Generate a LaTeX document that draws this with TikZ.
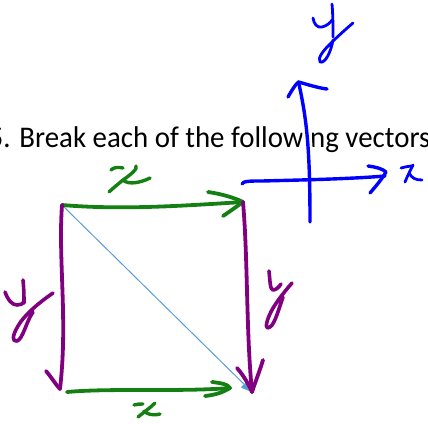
\documentclass[tikz,border=0pt]{standalone}
\usepackage{fontspec}
\setmainfont{Carlito}[FakeStretch=0.963]
\usetikzlibrary{arrows.meta}
\definecolor{pgreen}{RGB}{20,128,20}
\definecolor{ppurple}{RGB}{128,0,128}
\definecolor{pblue}{RGB}{0,0,255}
\definecolor{dblue}{RGB}{91,155,213}
\tikzset{
  pen/.style={line width=3.8, line cap=round, line join=round},
  gpen/.style={pen, draw=pgreen},
  ppen/.style={pen, draw=ppurple},
  bpen/.style={pen, line width=3.4, draw=pblue},
  titletext/.style={anchor=base west, inner sep=0, font=\fontsize{30}{36}\selectfont, text=black}
}
\begin{document}
\begin{tikzpicture}[x=1pt,y=-1pt]
\useasboundingbox (0,0) rectangle (428,423);
\clip (0,0) rectangle (428,423);
% title text
\node[titletext] (title) at (-11.5,147.7) {5. Break each of the following vectors};
% corners
\coordinate (A) at (62,205);
\coordinate (B) at (243,202);
\coordinate (C) at (60,389);
\coordinate (D) at (252,392);
\coordinate (E) at (67,392);
\coordinate (F) at (230,388);
% blue axes
\coordinate (ytop) at (298.5,82);
\coordinate (ybot) at (310,222);
\coordinate (xleft) at (242,184);
\coordinate (xright) at (385,176);
\begin{scope}
  \clip (285,114) rectangle (335,162);
  \draw[white, line width=9] (ytop) .. controls (307,120) and (310,150) .. (ybot);
\end{scope}
\draw[bpen] (ytop) .. controls (307,120) and (310,150) .. (ybot);
\draw[bpen] (288,97) .. controls (292,90) and (295,85) .. (ytop) .. controls (306,84) and (318,88) .. (327,89);
\draw[bpen] (xleft) .. controls (243,181) and (250,181) .. (262,181) .. controls (300,180) and (350,179) .. (xright);
\draw[bpen] (368,166) .. controls (376,167) and (383,169) .. (386,172) .. controls (382,179) and (376,186) .. (370,193);
% blue labels
\draw[bpen, line width=2.8] (313,18) .. controls (314,24) and (317,28) .. (322,27) .. controls (327,26) and (331,22) .. (332,20);
\draw[bpen, line width=2.8] (332,4) .. controls (333,15) and (333,28) .. (333,37);
\draw[bpen, line width=2.8] (353,23) .. controls (347,28) and (336,38) .. (330,44) .. controls (324,50) and (317,58) .. (320,62) .. controls (325,64) and (331,52) .. (333,40);
\draw[bpen, line width=2.8] (401,168) .. controls (405,167) and (409,166) .. (413,166);
\draw[bpen, line width=2.8] (413,165) .. controls (410,171) and (407,177) .. (405,182);
\draw[bpen, line width=2.8] (409,173) .. controls (412,178) and (415,180) .. (422,180);
% diagonal
\draw[dblue, line width=1, -{Triangle[length=11,width=9]}] (A) -- (D);
% green top vector
\draw[gpen] (A) .. controls (120,210) and (180,206) .. (B);
\draw[gpen] (208,192) .. controls (222,194) and (235,198) .. (B) .. controls (236,207) and (229,212) .. (223,216);
% purple left vector
\draw[ppen] (A) .. controls (58,260) and (68,320) .. (C);
\draw[ppen] (46,371) .. controls (52,378) and (56,385) .. (C);
% green bottom vector
\draw[gpen] (E) .. controls (110,388) and (180,392) .. (F);
\draw[gpen] (212,382) .. controls (220,383) and (228,384) .. (F) .. controls (222,393) and (214,395) .. (205,396);
% purple right vector
\draw[ppen] (B) .. controls (248,260) and (246,330) .. (D);
\draw[ppen] (237,368) .. controls (244,376) and (249,385) .. (D) .. controls (256,380) and (260,370) .. (263,360);
% green labels
\draw[gpen, line width=3.4] (111,170) .. controls (114,167) and (118,167) .. (123,168);
\draw[gpen, line width=3.4] (136,166) .. controls (138,169) and (130,175) .. (123,180) .. controls (117,185) and (112,189) .. (109,192);
\draw[gpen, line width=3.4] (123,180) .. controls (128,185) and (140,183) .. (150,178);
\draw[gpen, line width=3.4] (134,405) .. controls (137,404) and (140,404) .. (143,404);
\draw[gpen, line width=3.4] (155,403) .. controls (150,408) and (143,413) .. (138,417);
\draw[gpen, line width=3.4] (144,411) .. controls (147,414) and (152,416) .. (160,414);
% purple labels
\draw[ppen, line width=3.6] (5,292) .. controls (8,300) and (12,305) .. (17,305) .. controls (20,305) and (23,304) .. (24,302);
\draw[ppen, line width=3.6] (23,280) .. controls (24,290) and (24,297) .. (24,303);
\draw[ppen, line width=3.6] (53,293) .. controls (40,302) and (25,314) .. (18,326) .. controls (12,336) and (12,342) .. (17,341) .. controls (23,339) and (26,322) .. (33,312);
\draw[ppen, line width=3.6] (269,271) .. controls (270,280) and (270,290) .. (273,290) .. controls (276,290) and (279,287) .. (281,284);
\draw[ppen, line width=3.6] (292,283) .. controls (284,292) and (273,306) .. (269,316) .. controls (265,326) and (266,330) .. (270,327) .. controls (275,324) and (279,308) .. (283,297);
\end{tikzpicture}
\end{document}
